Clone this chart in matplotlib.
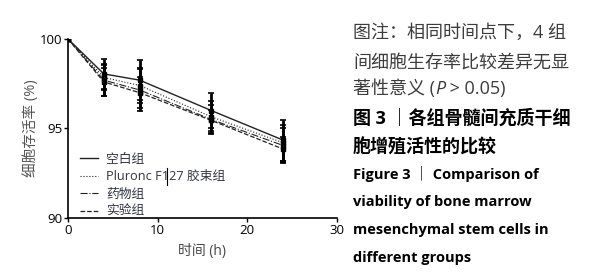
import matplotlib
matplotlib.use("Agg")
from matplotlib import pyplot as plt
from matplotlib.lines import Line2D

plt.rcParams['font.family'] = ['Open Sans', 'Noto Sans CJK SC', 'DejaVu Sans']

# data
time_h = [0, 4, 8, 16, 24]
groups = ["空白组", "Pluronc F127 胶束组", "药物组", "实验组"]
viability = [
    [100, 98.05, 97.7, 96.0, 94.35],   # blank
    [100, 97.85, 97.4, 95.65, 94.2],   # pluronic micelle
    [100, 97.7, 97.15, 95.5, 94.05],   # drug
    [100, 97.6, 97.0, 95.45, 93.85],   # experiment
]
errors = [
    [0, 0.85, 1.1, 1.0, 1.15],
    [0, 0.7, 1.0, 0.9, 1.0],
    [0, 0.9, 1.2, 0.8, 1.0],
    [0, 0.8, 0.85, 0.6, 0.7],
]
styles = ["-", ":", "-.", "--"]
widths = [1.0, 0.8, 0.8, 0.9]

W, H = 595, 276
fig = plt.figure(figsize=(W / 100, H / 100), dpi=100)
ax = fig.add_axes([68 / W, 58 / H, 269 / W, 179 / H])

for name, vals, err, ls, lw in zip(groups, viability, errors, styles, widths):
    ax.plot(time_h, vals, ls=ls, lw=lw, color="#222222", label=name)
    ax.errorbar(time_h, vals, yerr=err, fmt="s", ms=3, color="black",
                ecolor="black", elinewidth=2.0, capsize=2, capthick=1.2)

ax.set_xlim(0, 30)
ax.set_ylim(90, 100)
ax.set_xticks([0, 10, 20, 30])
ax.set_yticks([90, 95, 100])
ax.spines['top'].set_visible(False)
ax.spines['right'].set_visible(False)
ax.spines['left'].set_linewidth(1.2)
ax.spines['bottom'].set_linewidth(1.2)
ax.tick_params(labelsize=9.5, length=3, width=1, pad=1)
ax.set_xlabel("时间 (h)", fontsize=10, color="#444444", labelpad=5)
ax.set_ylabel("细胞存活率 (%)", fontsize=10.5, color="#555555", labelpad=1)

handles, labels = ax.get_legend_handles_labels()
ax.legend(handles[:4], labels[:4], loc="lower left", bbox_to_anchor=(0.0, -0.065),
          frameon=False, fontsize=9.2, handlelength=1.45, handletextpad=0.65,
          labelspacing=0.35, labelcolor="#333344")

# text cursor artefact seen in the legend
fig.add_artist(Line2D([167 / W, 167 / W], [1 - 168 / H, 1 - 185 / H],
                      color="black", lw=0.8))

# caption on the right
x0 = 353 / W
grey = "#3c3c3c"
fig.text(x0, 1 - 33 / H, "图注：相同时间点下，4 组", fontsize=13, color=grey, va="center")
fig.text(x0, 1 - 63 / H, "间细胞生存率比较差异无显", fontsize=13, color=grey, va="center")

# line with italic P, drawn piece by piece
fig.canvas.draw()
renderer = fig.canvas.get_renderer()
parts = [("著性意义 (", "normal"), ("P", "italic"), (" > 0.05)", "normal")]
xpos = x0
for txt, sty in parts:
    t = fig.text(xpos, 1 - 89 / H, txt, fontsize=13, color=grey, va="center", style=sty)
    bb = t.get_window_extent(renderer)
    xpos = bb.x1 / W

fig.text(x0, 1 - 118 / H, "图 3 ｜各组骨髓间充质干细", fontsize=13, color="black",
         fontweight="bold", va="center")
fig.text(x0, 1 - 147 / H, "胞增殖活性的比较", fontsize=13, color="black",
         fontweight="bold", va="center")
eng = ["Figure 3 ｜ Comparison of", "viability of bone marrow",
       "mesenchymal stem cells in", "different groups"]
for i, line in enumerate(eng):
    fig.text(x0, 1 - (174 + i * 28) / H, line, fontsize=10.5, color="black",
             fontweight="bold", va="center")

fig.savefig("out.png", dpi=100)
